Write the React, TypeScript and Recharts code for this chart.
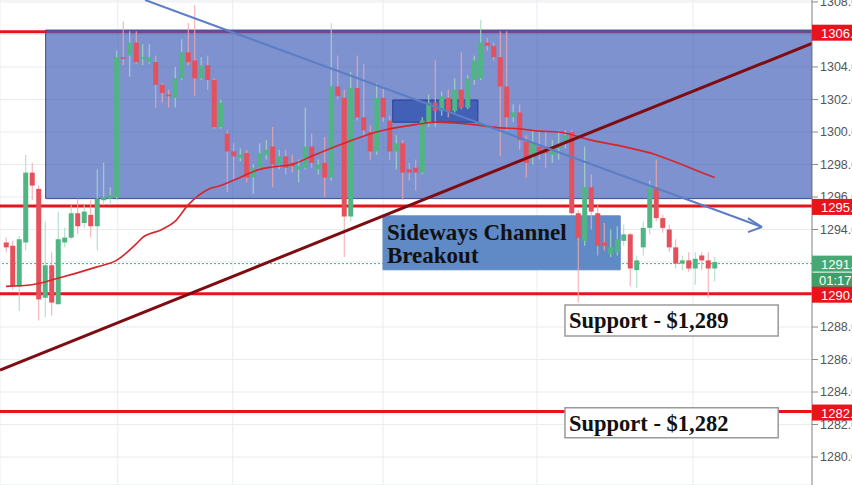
import React from 'react';
import { ComposedChart, Bar, Line, XAxis, YAxis, CartesianGrid, ReferenceLine, ReferenceArea } from 'recharts';

const opens = [1293.2,1293.0,1290.5,1293.2,1297.5,1296.5,1289.8,1291.8,1289.4,1293.2,
1293.5,1295.0,1294.4,1294.9,1294.2,1295.8,1295.9,1296.0,1304.6,1304.7,
1305.5,1304.5,1304.3,1304.3,1302.9,1302.3,1302.1,1303.3,1304.9,1304.4,
1303.3,1304.1,1303.2,1300.3,1299.9,1298.8,1298.4,1298.7,1297.2,1297.8,
1298.6,1299.1,1298.0,1298.5,1298.1,1297.7,1297.8,1299.1,1297.7,1298.1,
1297.2,1302.8,1302.1,1294.8,1302.7,1300.9,1300.0,1298.8,1302.1,1300.7,
1298.8,1299.3,1297.7,1297.8,1297.5,1300.6,1301.8,1301.3,1302.1,1301.3,
1302.6,1301.5,1303.2,1303.3,1305.5,1305.3,1304.6,1302.8,1300.9,1301.2,
1299.4,1298.6,1299.1,1299.1,1298.6,1299.0,1299.3,1300.0,1295.0,1293.3,
1296.6,1295.0,1293.2,1292.5,1292.6,1293.3,1293.7,1291.5,1292.9,1294.1,
1296.6,1294.7,1294.0,1292.9,1291.9,1292.1,1291.6,1292.4,1292.1,1291.6];

const closes = [1292.9,1290.5,1293.4,1297.5,1296.7,1289.7,1291.8,1289.5,1293.4,1293.5,
1295.0,1294.2,1295.1,1294.2,1295.9,1296.0,1296.1,1304.6,1304.5,1305.5,
1304.3,1304.6,1304.6,1302.9,1302.4,1302.2,1303.3,1304.9,1304.3,1303.3,
1304.1,1303.2,1300.3,1301.8,1298.8,1298.5,1298.6,1297.2,1297.8,1298.7,
1298.9,1298.0,1298.5,1297.8,1297.9,1297.9,1299.1,1298.1,1298.0,1297.2,
1302.8,1302.2,1294.8,1302.7,1300.9,1300.1,1298.8,1302.1,1300.9,1298.8,
1299.3,1297.5,1297.5,1297.5,1300.7,1301.8,1301.3,1302.2,1301.3,1302.6,
1301.5,1303.3,1304.4,1305.5,1305.3,1304.6,1302.8,1300.9,1301.2,1299.5,
1298.1,1299.3,1298.8,1298.7,1299.1,1299.2,1299.8,1295.0,1293.5,1296.6,
1295.1,1293.0,1293.0,1292.9,1293.4,1293.7,1291.6,1292.1,1294.1,1296.6,
1294.7,1294.1,1292.9,1291.9,1292.1,1291.6,1292.2,1292.1,1291.6,1292.0];

const highs = [1293.5,1293.3,1293.6,1298.6,1298.1,1296.7,1294.5,1292.6,1295.1,1294.1,
1295.5,1295.9,1295.5,1295.8,1297.7,1298.1,1296.6,1305.0,1306.8,1306.2,
1306.2,1305.4,1305.4,1304.7,1303.0,1302.6,1304.0,1305.7,1306.7,1307.8,
1304.6,1304.7,1303.3,1302.0,1300.1,1299.3,1299.0,1298.9,1298.0,1299.3,
1299.5,1300.3,1298.9,1298.9,1298.6,1298.3,1301.5,1299.9,1298.3,1299.7,
1306.7,1304.7,1302.6,1303.7,1304.7,1304.2,1300.4,1303.0,1302.8,1301.0,
1299.8,1299.5,1298.1,1298.3,1300.9,1302.3,1304.4,1302.5,1302.6,1303.3,
1304.9,1303.5,1304.7,1306.9,1305.8,1305.5,1306.2,1306.2,1301.7,1301.7,
1299.8,1300.1,1300.1,1300.0,1299.5,1300.1,1300.1,1300.1,1295.2,1299.1,
1297.4,1295.5,1294.4,1294.0,1294.2,1294.3,1293.8,1292.4,1294.5,1297.0,
1298.3,1294.9,1294.3,1293.4,1292.4,1292.6,1292.6,1292.6,1292.6,1292.3];

const lows = [1292.6,1290.3,1289.0,1292.7,1295.8,1288.4,1288.6,1288.7,1289.4,1292.9,
1293.4,1293.7,1294.1,1293.5,1292.7,1295.5,1295.5,1295.8,1304.1,1303.4,
1304.2,1304.1,1304.2,1301.5,1301.8,1301.5,1301.5,1303.2,1304.1,1302.2,
1303.2,1302.6,1300.2,1300.2,1296.3,1297.0,1298.2,1296.9,1296.2,1297.7,
1298.3,1296.6,1297.7,1297.4,1297.5,1296.9,1297.7,1297.8,1297.4,1296.0,
1297.0,1302.0,1292.3,1294.5,1300.7,1299.8,1298.3,1298.6,1300.6,1298.3,
1297.7,1295.8,1297.0,1296.4,1297.4,1300.3,1300.3,1301.0,1300.9,1301.2,
1301.4,1301.4,1302.9,1303.2,1305.0,1304.4,1298.5,1300.1,1300.6,1298.9,
1297.2,1298.0,1298.3,1297.8,1298.1,1298.3,1299.0,1294.9,1289.5,1293.0,
1294.0,1292.4,1292.7,1292.3,1292.4,1293.0,1290.5,1290.4,1292.4,1293.7,
1294.5,1293.8,1292.6,1291.6,1291.5,1291.4,1290.6,1291.5,1289.8,1290.8];

// moving average readings: candle index and value
const maAt = [0,4,8,14,17,20,21,24,26,28,31,33,36,39,41,44,47,52,57,63,66,69,72,76,79,82,85,90,95,100,103,108,109];
const maVal = [1290.5,1290.6,1291.0,1291.7,1292.1,1293.1,1293.5,1294.0,1294.5,1295.5,1296.45,1296.7,1297.2,1297.7,1297.85,1298.0,1298.5,1299.3,1300.0,1300.45,1300.6,1300.55,1300.45,1300.25,1300.2,1300.05,1300.0,1299.5,1299.1,1298.6,1298.15,1297.35,1297.2];

const yTicks = [1278,1280,1282,1284,1286,1288,1290,1292,1294,1296,1298,1300,1302,1304,1306,1308];
const gridX = [17.2, 34.9, 58, 81.7, 105.7];

const levelPrices = [1306.17, 1295.45, 1290.05, 1282.8];
const levelLabels = ['1306.1', '1295.4', '1290.0', '1282.7'];
const lastPrice = 1291.9;
const lastLabel = '1291.9';
const countdown = '01:17:53';

const supportTrend = [{ x: -0.92, y: 1285.35 }, { x: 124, y: 1305.45 }];
const resistTrend = [{ x: 21.4, y: 1308.12 }, { x: 116.3, y: 1294.15 }];
const arrowWingA = [{ x: 116.3, y: 1294.15 }, { x: 114.15, y: 1294.7 }];
const arrowWingB = [{ x: 116.3, y: 1294.15 }, { x: 114.15, y: 1293.84 }];

const channelBox = { x1: 6.1, x2: 124, y1: 1295.9, y2: 1306.27 };
const smallBox = { x1: 59.5, x2: 72.6, y1: 1300.6, y2: 1301.97 };
const breakoutBox = { x1: 58, x2: 94.5, y1: 1291.52, y2: 1294.84 };
const supportBoxes = [
  { x1: 86, x2: 118.8, y1: 1287.45, y2: 1289.36, text: 'Support - $1,289' },
  { x1: 86, x2: 118.8, y1: 1281.18, y2: 1283.03, text: 'Support - $1,282' },
];

const data = opens.map((o, i) => ({ i, open: o, high: highs[i], low: lows[i], close: closes[i], ma: null as number | null }));
maAt.forEach((idx, k) => { data[idx].ma = maVal[k]; });

const UP = '#4fb583';
const DOWN = '#e4505b';
const UP_WICK = '#a6dcc0';
const DOWN_WICK = '#f3a7ad';
const SANS = 'Liberation Sans, Arial, sans-serif';
const SERIF = 'Liberation Serif, Times New Roman, serif';

const Candle = (p: any) => {
  const { x, y, width, height, payload } = p;
  if (payload == null || x == null) return null;
  const { open, close, high, low } = payload;
  const top = Math.min(y, y + height);
  const h = Math.abs(height);
  const k = h / (high - low || 1);
  const up = close >= open;
  const bodyTop = top + (high - Math.max(open, close)) * k;
  const bodyH = Math.max(1.2, Math.abs(open - close) * k);
  const cx = x + width / 2;
  return (
    <g>
      <line x1={cx} x2={cx} y1={top} y2={top + h} stroke={up ? UP_WICK : DOWN_WICK} strokeWidth={1} />
      <rect x={x} y={bodyTop} width={width} height={bodyH} fill={up ? UP : DOWN} />
    </g>
  );
};

const PriceTag = (props: any) => {
  const { viewBox, text, bg } = props;
  if (!viewBox) return null;
  const x = viewBox.x + viewBox.width;
  const y = viewBox.y;
  return (
    <g>
      <rect x={x} y={y - 7} width={45} height={16} fill={bg} />
      <text x={x + 9} y={y + 6} fill="#ffffff" fontSize={13} fontFamily={SANS}>{text}</text>
    </g>
  );
};

const LastTag = (props: any) => {
  const { viewBox } = props;
  if (!viewBox) return null;
  const x = viewBox.x + viewBox.width;
  const y = viewBox.y;
  return (
    <g>
      <rect x={x} y={y - 8} width={45} height={16} fill="#46a872" />
      <text x={x + 9} y={y + 5} fill="#ffffff" fontSize={13} fontFamily={SANS}>{lastLabel}</text>
      <rect x={x} y={y + 9} width={45} height={15} fill="#3f9f69" />
      <text x={x + 7} y={y + 21} fill="#ffffff" fontSize={13} fontFamily={SANS}>{countdown}</text>
    </g>
  );
};

const BreakoutText = (props: any) => {
  const { viewBox } = props;
  if (!viewBox) return null;
  return (
    <g>
      <text x={viewBox.x + 4} y={viewBox.y + 24} fill="#111" fontSize={23} fontWeight="bold" fontFamily={SERIF}>Sideways Channel</text>
      <text x={viewBox.x + 4} y={viewBox.y + 47} fill="#111" fontSize={23} fontWeight="bold" fontFamily={SERIF}>Breakout</text>
    </g>
  );
};

const SupportText = (props: any) => {
  const { viewBox, text } = props;
  if (!viewBox) return null;
  return (
    <text x={viewBox.x + 4} y={viewBox.y + 23} fill="#111" fontSize={22.5} fontWeight="bold" fontFamily={SERIF}>{text}</text>
  );
};

export default function App() {
  return (
    <div style={{ position: 'absolute', left: 0, top: 0, width: 852, height: 485, background: '#fff' }}>
      <ComposedChart width={852} height={485} data={data} margin={{ top: 0, right: 0, bottom: 0, left: 0 }}>
        <CartesianGrid stroke="#e9ebef" strokeWidth={1} />
        <XAxis dataKey="i" type="number" domain={[-0.92, 124]} allowDataOverflow hide ticks={gridX} />
        <YAxis
          orientation="right"
          width={40}
          domain={[1278.28, 1308.12]}
          allowDataOverflow
          ticks={yTicks}
          interval={0}
          tickFormatter={(v: number) => v.toFixed(1)}
          tick={{ fill: '#555', fontSize: 12.5, fontFamily: SANS }}
          axisLine={{ stroke: '#8a8a8a' }}
          tickLine={{ stroke: '#8a8a8a' }}
          tickSize={6}
        />
        <ReferenceLine y={lastPrice} stroke="#47a87a" strokeDasharray="2 2" strokeWidth={1} zIndex={50} />
        {levelPrices.map((p, k) => (
          <ReferenceLine key={'l' + k} y={p} stroke="#e8141c" strokeWidth={3} zIndex={50} />
        ))}
        <ReferenceArea {...channelBox} fill="#3f5fb8" fillOpacity={0.68} stroke="#3a4a98" strokeWidth={1} ifOverflow="hidden" zIndex={60} />
        <ReferenceArea {...smallBox} fill="#2e4fae" fillOpacity={0.75} stroke="#2a3f96" strokeWidth={1} ifOverflow="hidden" zIndex={70} />
        <ReferenceArea {...breakoutBox} fill="#5f8ac6" fillOpacity={1} stroke="#5f8ac6" ifOverflow="hidden" label={<BreakoutText />} zIndex={80} />
        <Bar dataKey={(d: any) => [d.low, d.high]} barSize={5} shape={<Candle />} isAnimationActive={false} zIndex={300} />
        <Line dataKey="ma" type="monotone" connectNulls dot={false} stroke="#d6262b" strokeWidth={1.6} isAnimationActive={false} activeDot={false} zIndex={400} />
        <ReferenceLine segment={supportTrend} stroke="#7e0d12" strokeWidth={3} ifOverflow="hidden" zIndex={450} />
        <ReferenceLine segment={resistTrend} stroke="#5d7ec6" strokeWidth={2} ifOverflow="hidden" zIndex={450} />
        <ReferenceLine segment={arrowWingA} stroke="#5d7ec6" strokeWidth={2} ifOverflow="hidden" zIndex={450} />
        <ReferenceLine segment={arrowWingB} stroke="#5d7ec6" strokeWidth={2} ifOverflow="hidden" zIndex={450} />
        {supportBoxes.map((b, k) => (
          <ReferenceArea key={'s' + k} x1={b.x1} x2={b.x2} y1={b.y1} y2={b.y2} fill="#ffffff" fillOpacity={1} stroke="#9a9a9a" strokeWidth={1.5} ifOverflow="hidden" label={<SupportText text={b.text} />} zIndex={460} />
        ))}
        <ReferenceLine y={lastPrice} stroke="none" strokeOpacity={0} label={<LastTag />} zIndex={3000} />
        {levelPrices.map((p, k) => (
          <ReferenceLine key={'t' + k} y={p} stroke="none" strokeOpacity={0} label={<PriceTag text={levelLabels[k]} bg="#e8141c" />} zIndex={3000} />
        ))}
      </ComposedChart>
    </div>
  );
}
